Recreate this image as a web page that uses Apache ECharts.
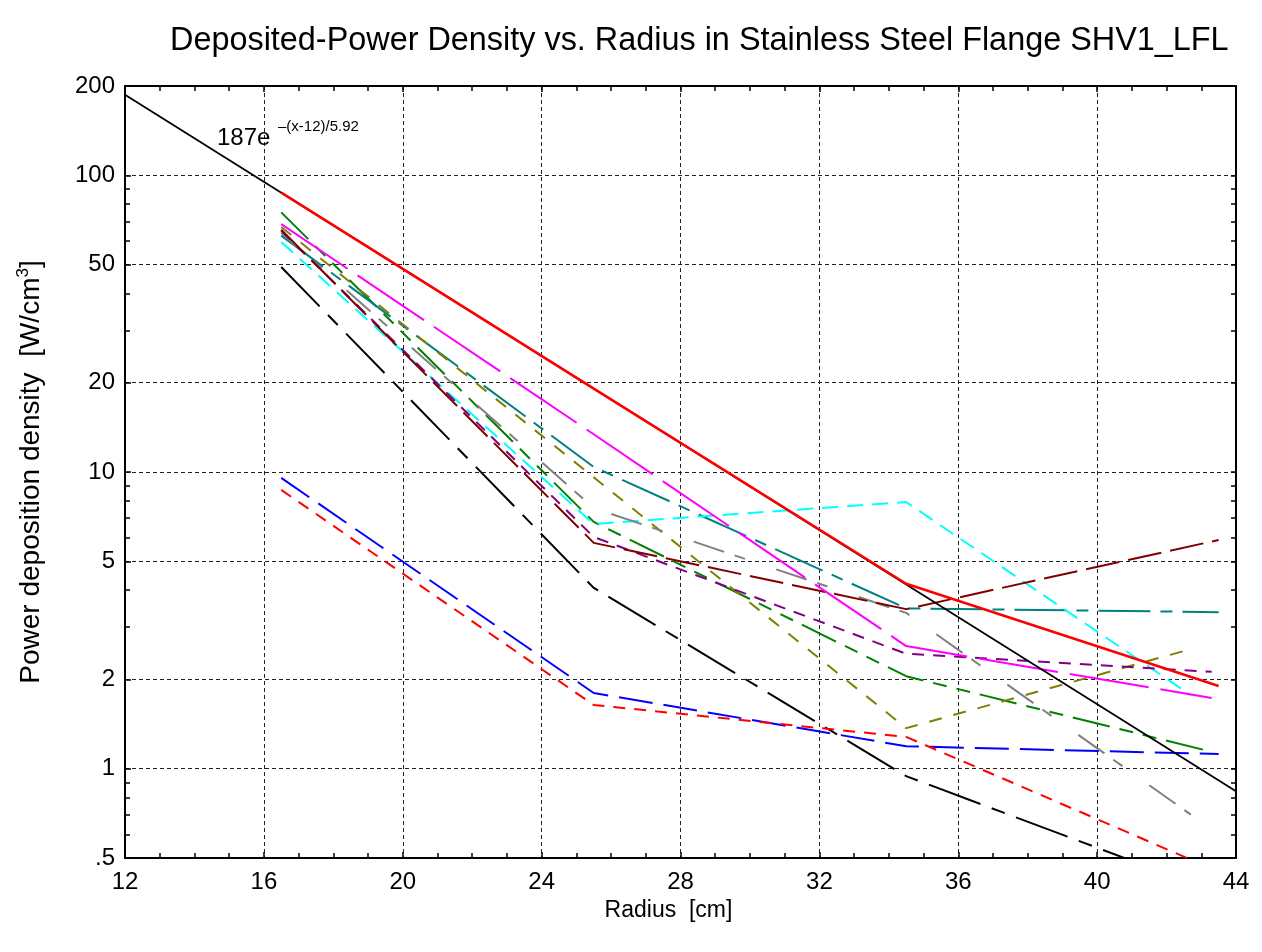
<!DOCTYPE html>
<html>
<head>
<meta charset="utf-8">
<script src="https://cdn.jsdelivr.net/npm/echarts@6/dist/echarts.min.js"></script>
<style>html,body{margin:0;padding:0;background:#fff}#c{width:1262px;height:952px}</style>
</head>
<body>
<div id="c"></div>
<script>
// ---- data ----
const fitRadius = [12, 44];
const fitDensity = [187, 0.84];

const radiusA = [16.5, 25.5, 34.5, 43.5];
const radiusB = [16.5, 25.5, 34.5, 43.3];
const radiusC = [16.5, 25.5, 34.5, 42.7];

const redSolid   = [87.4, 19.1, 4.2, 1.9];
const blackDash  = [49.1, 4.07, 0.944, 0.38];
const blueDash   = [9.55, 1.80, 1.19, 1.12];
const redDash    = [8.7, 1.64, 1.28, 0.45];
const greenDash  = [75, 6.79, 2.05, 1.14];
const magentaDash= [68.5, 13.4, 2.59, 1.73];
const tealDash   = [62.6, 10.4, 3.47, 3.37];
const cyanDash   = [59.6, 6.68, 7.92, 1.77];
const oliveDash  = [67, 9.6, 1.37, 2.53];
const grayDash   = [64, 7.56, 3.35, 0.70];
const purpleDash = [65, 6.04, 2.44, 2.12];
const maroonDash = [65.5, 5.77, 3.45, 5.90];

const yMajor = [0.5, 1, 2, 5, 10, 20, 50, 100, 200];
const yMinor = [0.6, 0.7, 0.8, 0.9, 3, 4, 6, 7, 8, 9, 30, 40, 60, 70, 80, 90];

const titleText = 'Deposited-Power Density vs. Radius in Stainless Steel Flange SHV1_LFL';
const xName = 'Radius  [cm]';
const fitLabelMain = '187e';
const fitLabelSup = '\u2013(x-12)/5.92';

// ---- chart ----
const FONT = '"Liberation Sans", Arial, Helvetica, sans-serif';
function pts(xs, ys) { return xs.map((x, i) => [x, ys[i]]); }
function line(name, xs, ys, color, width, type, z) {
  return {
    name, type: 'line', data: pts(xs, ys), symbol: 'none', showSymbol: false,
    lineStyle: { color, width, type }, itemStyle: { color }, z: z || 2,
    animation: false, silent: true, clip: true
  };
}
const fmtY = v => { const r = Math.round(v * 10) / 10; return r === 0.5 ? '.5' : String(r); };
const axisLineStyle = { color: '#000', width: 2 };
const gridLine = { show: true, lineStyle: { color: '#222', width: 1, type: [4, 3] } };

const chart = echarts.init(document.getElementById('c'), null, { renderer: 'canvas' });
chart.setOption({
  backgroundColor: '#fff',
  animation: false,
  title: {
    text: titleText, left: 165, top: 20,
    textStyle: { fontFamily: FONT, fontSize: 32.4, fontWeight: 'normal', color: '#000' }
  },
  grid: { left: 125, right: 26, top: 86, bottom: 94, containLabel: false },
  xAxis: [
    {
      type: 'value', min: 12, max: 44, interval: 4, position: 'bottom',
      axisLine: { show: true, onZero: false, lineStyle: axisLineStyle },
      axisTick: { show: true, inside: true, length: 6, lineStyle: { color: '#000', width: 1.5 } },
      minorTick: { show: true, splitNumber: 4, length: 5, lineStyle: { color: '#000', width: 1.5 } },
      axisLabel: { fontFamily: FONT, fontSize: 24, color: '#000', margin: 12 },
      splitLine: gridLine,
      name: xName, nameLocation: 'middle', nameGap: 38,
      nameTextStyle: { fontFamily: FONT, fontSize: 23, color: '#000', padding: [0, 24, 0, 0] }
    },
    {
      type: 'value', min: 12, max: 44, interval: 4, position: 'top',
      axisLine: { show: true, onZero: false, lineStyle: axisLineStyle },
      axisTick: { show: true, inside: true, length: 6, lineStyle: { color: '#000', width: 1.5 } },
      minorTick: { show: true, splitNumber: 4, length: 5, lineStyle: { color: '#000', width: 1.5 } },
      axisLabel: { show: false }, splitLine: { show: false }
    }
  ],
  yAxis: [
    {
      type: 'log', logBase: 10, min: 0.5, max: 200, position: 'left',
      axisLine: { show: true, onZero: false, lineStyle: axisLineStyle },
      axisTick: { show: true, inside: true, length: 6, customValues: yMajor, lineStyle: { color: '#000', width: 1.5 } },
      axisLabel: { customValues: yMajor, formatter: fmtY, fontFamily: FONT, fontSize: 24, color: '#000', margin: 10 },
      splitLine: gridLine,
      name: '{a|Power deposition density  [W/cm}{s|3}{a|]}',
      nameLocation: 'middle', nameRotate: 90, nameGap: 80,
      nameTextStyle: {
        rich: {
          a: { fontFamily: FONT, fontSize: 28, color: '#000', lineHeight: 32, verticalAlign: 'bottom' },
          s: { fontFamily: FONT, fontSize: 17, color: '#000', lineHeight: 32, verticalAlign: 'bottom', padding: [0, 0, 13, 0] }
        }
      }
    },
    {
      type: 'log', logBase: 10, min: 0.5, max: 200, position: 'left',
      axisLine: { show: true, onZero: false, lineStyle: axisLineStyle },
      axisTick: { show: true, inside: true, length: 5, customValues: yMinor, lineStyle: { color: '#000', width: 1.5 } },
      axisLabel: { show: false }, splitLine: { show: false }
    },
    {
      type: 'log', logBase: 10, min: 0.5, max: 200, position: 'right',
      axisLine: { show: true, onZero: false, lineStyle: axisLineStyle },
      axisTick: { show: true, inside: true, length: 5, customValues: yMajor.concat(yMinor), lineStyle: { color: '#000', width: 1.5 } },
      axisLabel: { show: false }, splitLine: { show: false }
    }
  ],
  graphic: [
    { type: 'text', left: 217, top: 126, silent: true, z: 100,
      style: { text: fitLabelMain, font: '24px ' + FONT, fill: '#000' } },
    { type: 'text', left: 278, top: 119, silent: true, z: 100,
      style: { text: fitLabelSup, font: '15px ' + FONT, fill: '#000' } }
  ],
  series: [
    line('black dash', radiusA, blackDash, '#000000', 2, [55, 12, 14, 12]),
    line('blue', radiusA, blueDash, '#0000ff', 2, [34, 11]),
    line('red dash', radiusA, redDash, '#ff0000', 2, [12, 9]),
    line('green', radiusB, greenDash, '#008000', 2, [38, 10, 14, 10, 14, 10]),
    line('teal', radiusA, tealDash, '#008080', 2, [52, 10, 12, 10]),
    line('cyan', radiusC, cyanDash, '#00ffff', 2, [16, 9]),
    line('olive', radiusC, oliveDash, '#808000', 2, [13, 12]),
    line('gray', radiusC, grayDash, '#808080', 2, [32, 11, 11, 33]),
    line('purple', radiusB, purpleDash, '#800080', 2, [12, 9]),
    line('maroon', radiusA, maroonDash, '#800000', 2, [34, 9]),
    line('magenta', radiusB, magentaDash, '#ff00ff', 2, [80, 12]),
    line('fit', fitRadius, fitDensity, '#000000', 1.8, 'solid', 3),
    line('red solid', radiusA, redSolid, '#ff0000', 2.5, 'solid', 4)
  ]
});
</script>
</body>
</html>
